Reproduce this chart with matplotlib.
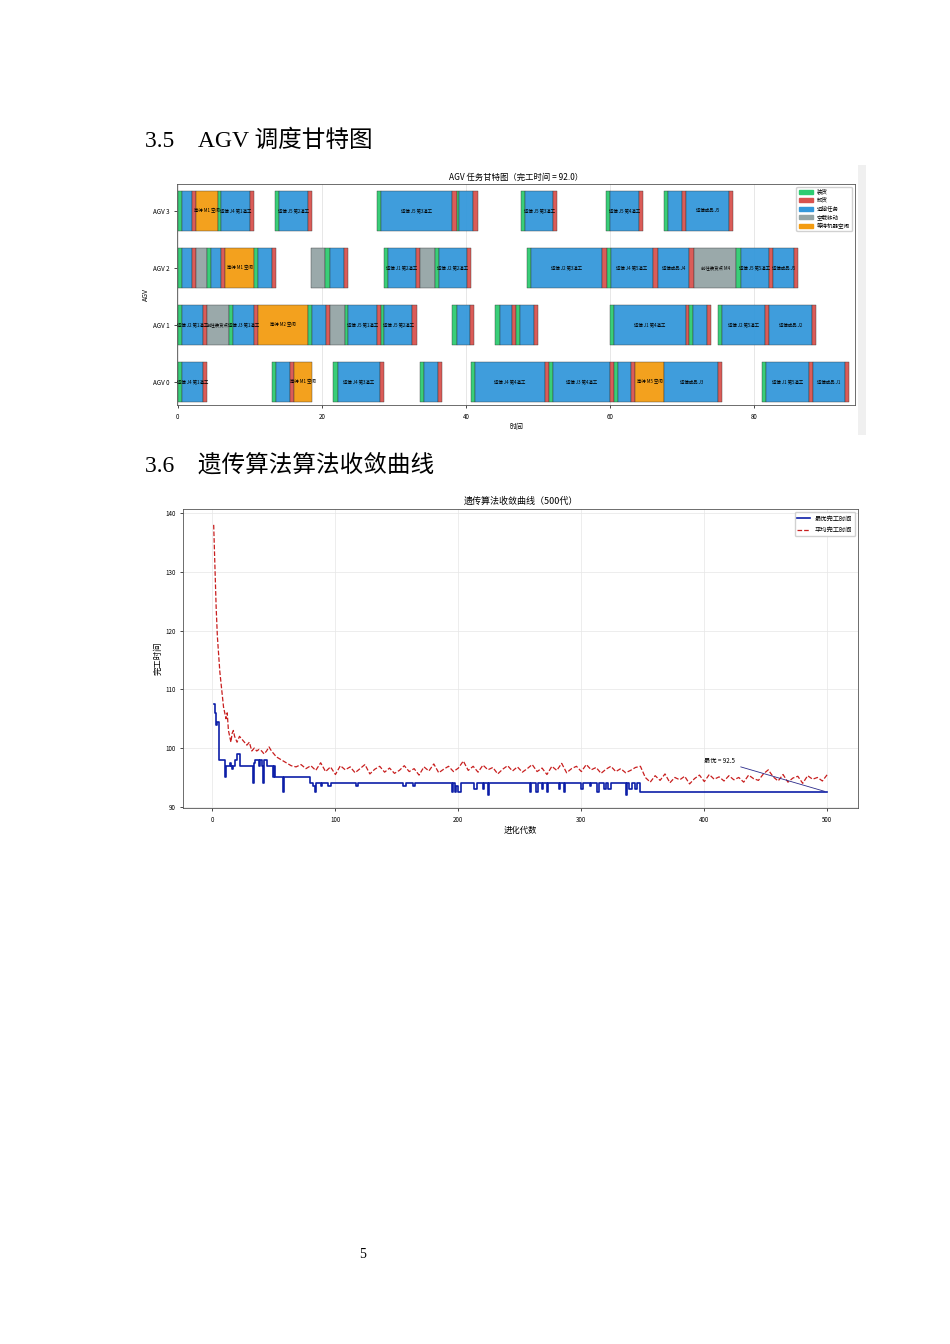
import numpy as np
import matplotlib.pyplot as plt
from matplotlib.patches import Patch, Rectangle

plt.rcParams["font.family"] = ["Noto Sans CJK SC", "DejaVu Sans"]
plt.rcParams["axes.unicode_minus"] = False

COLORS = {"load": "#2ecc71", "unload": "#d9534f", "run": "#3498db",
          "empty": "#95a5a6", "wait": "#f39c12"}
LEG = [("load", "装货"), ("unload", "卸货"), ("run", "运输任务"),
       ("empty", "空载移动"), ("wait", "等待机器空闲")]

# gantt segments per AGV: (start, end, kind, label)
agv0 = [(0, .55, "load", ""), (.55, 3.55, "run", "运输 J4 第1道工"), (3.55, 4.1, "unload", ""),
        (13.1, 13.65, "load", ""), (13.65, 15.6, "run", "运输 J4 第2道工"), (15.6, 16.15, "unload", ""),
        (16.15, 18.65, "wait", "等待 M1 空闲"),
        (21.6, 22.2, "load", ""), (22.2, 28.05, "run", "运输 J4 第3道工"), (28.05, 28.6, "unload", ""),
        (33.6, 34.15, "load", ""), (34.15, 36.1, "run", "运输 J4 第3道工"), (36.1, 36.65, "unload", ""),
        (40.65, 41.2, "load", ""), (41.2, 50.95, "run", "运输 J4 第4道工"), (50.95, 51.55, "unload", ""),
        (51.55, 52.05, "load", ""), (52.05, 60, "run", "运输 J3 第4道工"), (60, 60.55, "unload", ""),
        (60.55, 61.05, "load", ""), (61.05, 62.9, "run", "运输 J3 第5道工"), (62.9, 63.5, "unload", ""),
        (63.5, 67.55, "wait", "等待 M5 空闲"), (67.55, 75.05, "run", "运输成品 J3"), (75.05, 75.6, "unload", ""),
        (81.1, 81.65, "load", ""), (81.65, 87.55, "run", "运输 J1 第5道工"), (87.55, 88.15, "unload", ""),
        (88.15, 92.65, "run", "运输成品 J1"), (92.65, 93.2, "unload", "")]
agv1 = [(0, .55, "load", ""), (.55, 3.55, "run", "运输 J2 第1道工"), (3.55, 4.1, "unload", ""),
        (4.1, 7.05, "empty", "前往装货点"), (7.05, 7.65, "load", ""), (7.65, 10.55, "run", "运输 J3 第1道工"),
        (10.55, 11.1, "unload", ""), (11.1, 18.05, "wait", "等待 M2 空闲"), (18.05, 18.6, "load", ""),
        (18.6, 20.6, "run", "运输 J2 第2道工"), (20.6, 21.15, "unload", ""), (21.15, 23.15, "empty", "前往装货点"),
        (23.15, 23.7, "load", ""), (23.7, 27.6, "run", "运输 J5 第1道工"), (27.6, 28.15, "unload", ""),
        (28.15, 28.6, "load", ""), (28.6, 32.55, "run", "运输 J5 第2道工"), (32.55, 33.15, "unload", ""),
        (38.1, 38.7, "load", ""), (38.7, 40.6, "run", "运输 J3 第3道工"), (40.6, 41.15, "unload", ""),
        (44.1, 44.7, "load", ""), (44.7, 46.45, "run", "运输 J3 第4道工"), (46.45, 46.95, "unload", ""),
        (46.95, 47.5, "load", ""), (47.5, 49.5, "run", "运输 J2 第3道工"), (49.5, 50.05, "unload", ""),
        (60, 60.6, "load", ""), (60.6, 70.5, "run", "运输 J1 第4道工"), (70.5, 71.0, "unload", ""),
        (71.0, 71.55, "load", ""), (71.55, 73.5, "run", "运输 J2 第4道工"), (73.5, 74.05, "unload", ""),
        (75.05, 75.6, "load", ""), (75.6, 81.55, "run", "运输 J2 第5道工"), (81.55, 82.1, "unload", ""),
        (82.1, 88.1, "run", "运输成品 J2"), (88.1, 88.65, "unload", "")]
agv2 = [(0, .55, "load", ""), (.55, 2, "run", ""), (2, 2.55, "unload", ""), (2.55, 4.05, "empty", ""),
        (4.05, 4.55, "load", ""), (4.55, 6.05, "run", ""), (6.05, 6.6, "unload", ""),
        (6.6, 10.55, "wait", "等待 M1 空闲"), (10.55, 11.1, "load", ""), (11.1, 13.1, "run", "运输 J1 第1道工"),
        (13.1, 13.65, "unload", ""), (18.5, 20.5, "empty", "前往装货点"), (20.5, 21.1, "load", ""),
        (21.1, 23.1, "run", "第1道工"), (23.1, 23.65, "unload", ""),
        (28.6, 29.15, "load", ""), (29.15, 33.1, "run", "运输 J1 第2道工"), (33.1, 33.65, "unload", ""),
        (33.65, 35.65, "empty", "前往装货点"), (35.65, 36.2, "load", ""), (36.2, 40.1, "run", "运输 J2 第2道工"),
        (40.1, 40.65, "unload", ""),
        (48.5, 49.1, "load", ""), (49.1, 58.9, "run", "运输 J2 第3道工"), (58.9, 59.55, "unload", ""),
        (59.55, 60.1, "load", ""), (60.1, 66.0, "run", "运输 J4 第5道工"), (66.0, 66.6, "unload", ""),
        (66.6, 71.0, "run", "运输成品 J4"), (71.0, 71.65, "unload", ""), (71.65, 77.55, "empty", "前往装货点 M4"),
        (77.55, 78.15, "load", ""), (78.15, 82.05, "run", "运输 J5 第5道工"), (82.05, 82.65, "unload", ""),
        (82.65, 85.6, "run", "运输成品 J5"), (85.6, 86.15, "unload", "")]
agv3 = [(0, .55, "load", ""), (.55, 2, "run", ""), (2, 2.55, "unload", ""), (2.55, 5.55, "wait", "等待 M1 空闲"),
        (5.55, 6, "load", ""), (6, 10.1, "run", "运输 J4 第1道工"), (10.1, 10.65, "unload", ""),
        (13.55, 14.1, "load", ""), (14.1, 18.05, "run", "运输 J5 第2道工"), (18.05, 18.65, "unload", ""),
        (27.6, 28.15, "load", ""), (28.15, 38.1, "run", "运输 J5 第3道工"), (38.1, 38.7, "unload", ""),
        (38.7, 39.1, "load", ""), (39.1, 41.05, "run", "运输 J3 第2道工"), (41.05, 41.65, "unload", ""),
        (47.65, 48.25, "load", ""), (48.25, 52.1, "run", "运输 J5 第3道工"), (52.1, 52.65, "unload", ""),
        (59.45, 60, "load", ""), (60, 64.05, "run", "运输 J5 第4道工"), (64.05, 64.6, "unload", ""),
        (67.55, 68.1, "load", ""), (68.1, 70.05, "run", "运输 J5 第5道工"), (70.05, 70.6, "unload", ""),
        (70.6, 76.5, "run", "运输成品 J5"), (76.5, 77.1, "unload", "")]
agvs = [agv0, agv1, agv2, agv3]
agv_labels = ["AGV 0", "AGV 1", "AGV 2", "AGV 3"]

# convergence data
avg_early_gen = [1, 2, 3, 4, 5, 6, 7, 8, 9, 10, 11, 12, 13, 14, 15, 16, 17, 18, 19, 20,
                 22, 24, 26, 28, 30, 32, 34, 36, 38, 40, 42, 44, 46, 48, 50]
avg_early = [138, 131, 124, 119, 116, 113, 111, 109, 107, 106, 105, 106, 103, 102, 101, 102.5, 103, 102, 101.5, 101,
             102, 101.5, 101, 100.5, 101, 99.5, 100, 99.5, 99.8, 99.5, 99, 99.5, 100.2, 99.5, 99]
avg_late = [98.5, 98, 97.5, 97, 96.8, 97.2, 96.5, 97, 96.2, 97.5, 96, 96.8, 95.5, 97, 96.3, 96.8, 95.8, 96.5,
            97.2, 95.6, 96.4, 96.9, 95.9, 96.6, 95.7, 96.2, 97, 96, 96.5, 95.4, 96.8, 96.1, 97.3, 95.8, 96.4,
            96.9, 96, 96.6, 97.8, 96.2, 96.9, 95.9, 97.1, 96.3, 96.7, 95.6, 96.4, 97, 96.1, 96.8, 95.9, 96.5,
            97.2, 96, 96.6, 95.5, 96.9, 96.2, 97.4, 95.8, 96.5, 96.9, 96, 97.2, 96.3, 96.7, 95.7, 96.4, 96.9,
            96, 96.5, 95.8, 96.2, 96.7, 96.9,
            95, 94.2, 95.3, 94.5, 95.6, 94.1, 95, 94.6, 95.2, 93.9, 94.8, 95.4, 94.3, 95.5, 94.7, 95.1, 94.4,
            95.3, 94.6, 95, 94.2, 95.4, 94.8, 94.5, 95.6, 96.3, 95.1, 94.4, 95.5, 94.2, 94.9, 95.2, 94, 95.3,
            94.7, 95, 94.4, 95.5]
best_gen = [1, 2, 3, 4, 5, 10, 11, 14, 15, 16, 17, 18, 20, 22, 33, 34, 35, 38, 39, 40, 41, 42, 44, 49, 50, 51,
            57, 58, 79, 82, 83, 84, 88, 89, 94, 96, 117, 118, 155, 157, 163, 165, 195, 196, 197, 198, 200, 202,
            213, 215, 220, 221, 224, 225, 258, 259, 263, 265, 268, 269, 272, 273, 282, 283, 286, 287, 300, 301,
            307, 308, 313, 314, 318, 320, 322, 324, 336, 337, 339, 341, 344, 345, 348, 500]
best_val = [107.5, 106, 104, 104.5, 98, 95, 97, 97.5, 97, 96.5, 97, 98, 99, 97, 94, 97.5, 98, 97, 98, 97, 94, 98,
            97, 95, 97, 95, 92.5, 95, 94, 93.5, 92.5, 94, 93.5, 94, 93.5, 94, 93.5, 94, 93.5, 94, 93.5, 94,
            92.5, 94, 92.5, 93.5, 92.5, 94, 93, 94, 93, 94, 92, 94, 92.5, 94, 92.5, 94, 93, 94, 92.5, 94, 93, 94,
            92.5, 94, 93, 94, 93.5, 94, 92.5, 94, 93, 94, 93, 94, 92, 94, 93, 94, 93, 94, 92.5, 92.5]

fig = plt.figure(figsize=(9.5, 13.44), dpi=100, facecolor="white")
head = ["Liberation Serif", "Noto Sans CJK SC"]
fig.text(145 / 950, 1 - 141 / 1344, "3.5　AGV 调度甘特图", fontsize=17, family=head, va="center")
fig.text(145 / 950, 1 - 465 / 1344, "3.6　遗传算法算法收敛曲线", fontsize=17, family=head, va="center")
fig.text(363 / 950, 1 - 1255 / 1344, "5", fontsize=10, family=["Liberation Serif"], ha="center", va="center")
fig.patches.append(Rectangle((858 / 950, 1 - 435 / 1344), 8 / 950, 270 / 1344, transform=fig.transFigure,
                             facecolor="#f0f0f0", edgecolor="none"))

# gantt
ax = fig.add_axes([177 / 950, 1 - 405 / 1344, 678 / 950, 221 / 1344])
for row, segs in enumerate(agvs):
    for s, e, kind, lab in segs:
        ax.barh(row, e - s, left=s, height=0.7, color=COLORS[kind], edgecolor="#333333", linewidth=0.3, alpha=0.95)
        if lab and e - s >= 2.5:
            ax.text((s + e) / 2, row, lab, fontsize=3.2, ha="center", va="center")
ax.set_xlim(-0.1, 94)
ax.set_ylim(-0.4, 3.47)
ax.set_yticks(range(4))
ax.set_yticklabels(agv_labels)
ax.set_xticks([0, 20, 40, 60, 80])
ax.tick_params(labelsize=4.5, length=2, width=0.5)
ax.grid(axis="x", color="#dddddd", lw=0.5)
ax.set_axisbelow(True)
ax.set_xlabel("时间", fontsize=5, labelpad=2)
ax.set_ylabel("AGV", fontsize=5, labelpad=2)
ax.set_title("AGV 任务甘特图（完工时间 = 92.0）", fontsize=6, pad=3)
for sp in ax.spines.values():
    sp.set_linewidth(0.6)
    sp.set_color("#555555")
ax.legend(handles=[Patch(color=COLORS[k], label=t) for k, t in LEG], loc="upper right",
          fontsize=4, handlelength=2.5, handleheight=0.8, framealpha=0.9, borderpad=0.4, labelspacing=0.5)

# convergence
bx = fig.add_axes([183 / 950, 1 - 808 / 1344, 675 / 950, 299 / 1344])
late_gen = np.linspace(52, 500, len(avg_late))
bx.plot(best_gen, best_val, color="#0d1fa8", lw=1.2, drawstyle="steps-post", label="最优完工时间")
bx.plot(list(avg_early_gen) + list(late_gen), avg_early + avg_late, color="#c81e1e", lw=0.9, ls="--",
        label="平均完工时间")
bx.set_ylim(89.8, 140.7)
bx.set_xticks([0, 100, 200, 300, 400, 500])
bx.set_yticks([90, 100, 110, 120, 130, 140])
bx.tick_params(labelsize=4.5, length=2, width=0.5)
bx.grid(color="#e6e6e6", lw=0.5)
bx.set_xlabel("进化代数", fontsize=6, labelpad=2)
bx.set_ylabel("完工时间", fontsize=6, labelpad=2)
bx.set_title("遗传算法收敛曲线（500代）", fontsize=6.5, pad=4)
for sp in bx.spines.values():
    sp.set_linewidth(0.6)
    sp.set_color("#555555")
bx.legend(loc="upper right", fontsize=4.5, framealpha=0.9)
bx.annotate("最优 = 92.5", xy=(500, 92.5), xytext=(400, 97.5), fontsize=4.5,
            arrowprops=dict(arrowstyle="-", color="#2a2a8a", lw=0.6))

fig.savefig("out.png", dpi=100, facecolor="white")
